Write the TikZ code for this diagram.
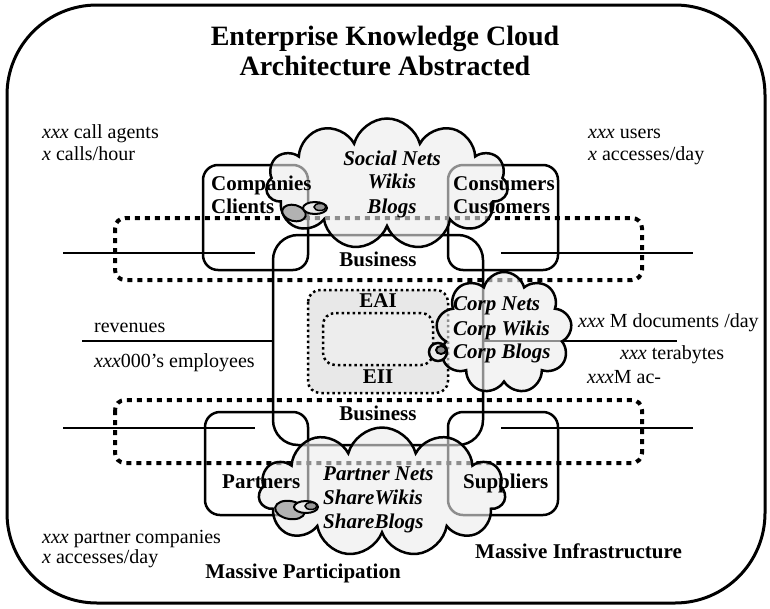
\documentclass[tikz,border=0pt]{standalone}
\usepackage{fontspec}
\setmainfont{Liberation Serif}
\usetikzlibrary{shapes.symbols}
\begin{document}
\begin{tikzpicture}[x=1pt,y=-1pt,
  frame/.style={line width=3pt, rounded corners=90pt},
  box/.style={line width=2.5pt, rounded corners=15pt},
  dots/.style={line width=4pt, dash pattern=on 5pt off 5pt, rounded corners=10pt},
  fdots/.style={line width=2.5pt, dash pattern=on 2.5pt off 3pt, rounded corners=12pt, fill=black!9},
  hline/.style={line width=2.5pt},
  cloudy/.style={cloud, cloud puffs=11, draw, line width=2.5pt, fill=black!8, fill opacity=0.6, inner sep=0pt},
  txt/.style={font=\fontsize{20}{23}\selectfont, inner sep=0pt, text height=14pt, text depth=4pt, anchor=west},
  lbl/.style={font=\fontsize{21}{23}\selectfont\bfseries, inner sep=0pt, text height=14pt, text depth=4pt},
  cl/.style={font=\fontsize{21}{23}\selectfont\bfseries\itshape, inner sep=0pt, text height=14pt, text depth=4pt},
  ttl/.style={font=\fontsize{28}{30}\selectfont\bfseries, inner sep=0pt, text height=19pt, text depth=5pt}
]
\useasboundingbox (0,0) rectangle (770,608);
% outer frame
\draw[frame] (7,5) rectangle (765,603);
% boxes
\draw[box] (203,165) rectangle (308,270);
\draw[box] (448,165) rectangle (558,270);
\draw[box] (205,412) rectangle (308,515);
\draw[box] (448,412) rectangle (558,515);
\draw[box, rounded corners=25pt] (273,235) rectangle (483,445);
% lines
\draw[hline] (63,253) -- (255,253);
\draw[hline] (501,253) -- (693,253);
\draw[hline] (63,428) -- (255,428);
\draw[hline] (501,428) -- (693,428);
\draw[hline] (82,341) -- (273,341);
\draw[hline] (483,341) -- (677,341);
% dotted bands
\draw[dots] (115,218) rectangle (642,280);
\draw[dots] (115,400) rectangle (642,463);
% EAI / EII
\draw[fdots] (308,290) rectangle (448,393);
\draw[fdots, fill=black!7] (323,313) rectangle (433,365);
% clouds
\node[cloudy, aspect=1.85, minimum width=242pt, minimum height=131pt] (social) at (387,184) {};
\node[cloudy, aspect=1.1, cloud puffs=9, minimum width=136pt, minimum height=122pt] (corp) at (504,333) {};
\node[cloudy, aspect=1.9, minimum width=247pt, minimum height=129pt] (partner) at (382,492) {};
% callouts
\draw[line width=2pt, fill=black!30, rotate around={-15:(294,213)}] (294,213) ellipse [x radius=12, y radius=8];
\draw[line width=2pt, fill=black!8] (315,208) ellipse [x radius=12, y radius=6];
\draw[line width=1.5pt, fill=black!40] (320,207) ellipse [x radius=6, y radius=3.5];
\draw[line width=2.5pt, fill=black!8] (438,352) circle (9);
\draw[line width=2pt, fill=black!45] (441,350) ellipse [x radius=5, y radius=4];
\draw[line width=2pt, fill=black!30, rotate around={-10:(290,510)}] (290,510) ellipse [x radius=15, y radius=9];
\draw[line width=2pt, fill=black!8] (306,507) ellipse [x radius=12, y radius=6];
\draw[line width=1.5pt, fill=black!40] (311,506) ellipse [x radius=6, y radius=3.5];
% title
\node[ttl] (t1) at (385,38) {Enterprise Knowledge Cloud};
\node[ttl] (t2) at (385,68) {Architecture Abstracted};
% plain texts
\node[txt] (ca) at (42,133) {\textit{xxx} call agents};
\node[txt] (ch) at (42,155) {\textit{x} calls/hour};
\node[txt] (us) at (588,133) {\textit{xxx} users};
\node[txt] (ad) at (588,155) {\textit{x} accesses/day};
\node[txt] (rev) at (94,327) {revenues};
\node[txt] (emp) at (94,362) {\textit{xxx}000’s employees};
\node[txt] (doc) at (578,322) {\textit{xxx} M documents /day};
\node[txt] (tb) at (620,354) {\textit{xxx} terabytes};
\node[txt] (acc) at (587,378) {\textit{xxx}M ac-};
\node[txt] (pc) at (42,538) {\textit{xxx} partner companies};
\node[txt] (pad) at (42,558) {\textit{x} accesses/day};
% bold labels
\node[lbl] (mp) at (303,573) {Massive Participation};
\node[lbl, anchor=west] (mi) at (475,553) {Massive Infrastructure};
\node[lbl, anchor=west] (comp) at (211,185) {Companies};
\node[lbl, anchor=west] (cli) at (211,208) {Clients};
\node[lbl, anchor=west] (cons) at (453,185) {Consumers};
\node[lbl, anchor=west] (cust) at (453,208) {Customers};
\node[lbl, anchor=west] (part) at (222,483) {Partners};
\node[lbl, anchor=west] (supp) at (463,483) {Suppliers};
\node[lbl] (bus1) at (378,261) {Business};
\node[lbl] (bus2) at (378,415) {Business};
\node[lbl] (eai) at (378,302) {EAI};
\node[lbl] (eii) at (378,378) {EII};
% cloud texts
\node[cl] (sn) at (392,160) {Social Nets};
\node[cl] (sw) at (392,183) {Wikis};
\node[cl] (sb) at (392,208) {Blogs};
\node[cl, anchor=west] (cn) at (453,305) {Corp Nets};
\node[cl, anchor=west] (cw) at (453,330) {Corp Wikis};
\node[cl, anchor=west] (cb) at (453,353) {Corp Blogs};
\node[cl, anchor=west] (pn) at (323,475) {Partner Nets};
\node[cl, anchor=west] (pw) at (323,499) {ShareWikis};
\node[cl, anchor=west] (pb) at (323,523) {ShareBlogs};
\end{tikzpicture}
\end{document}
